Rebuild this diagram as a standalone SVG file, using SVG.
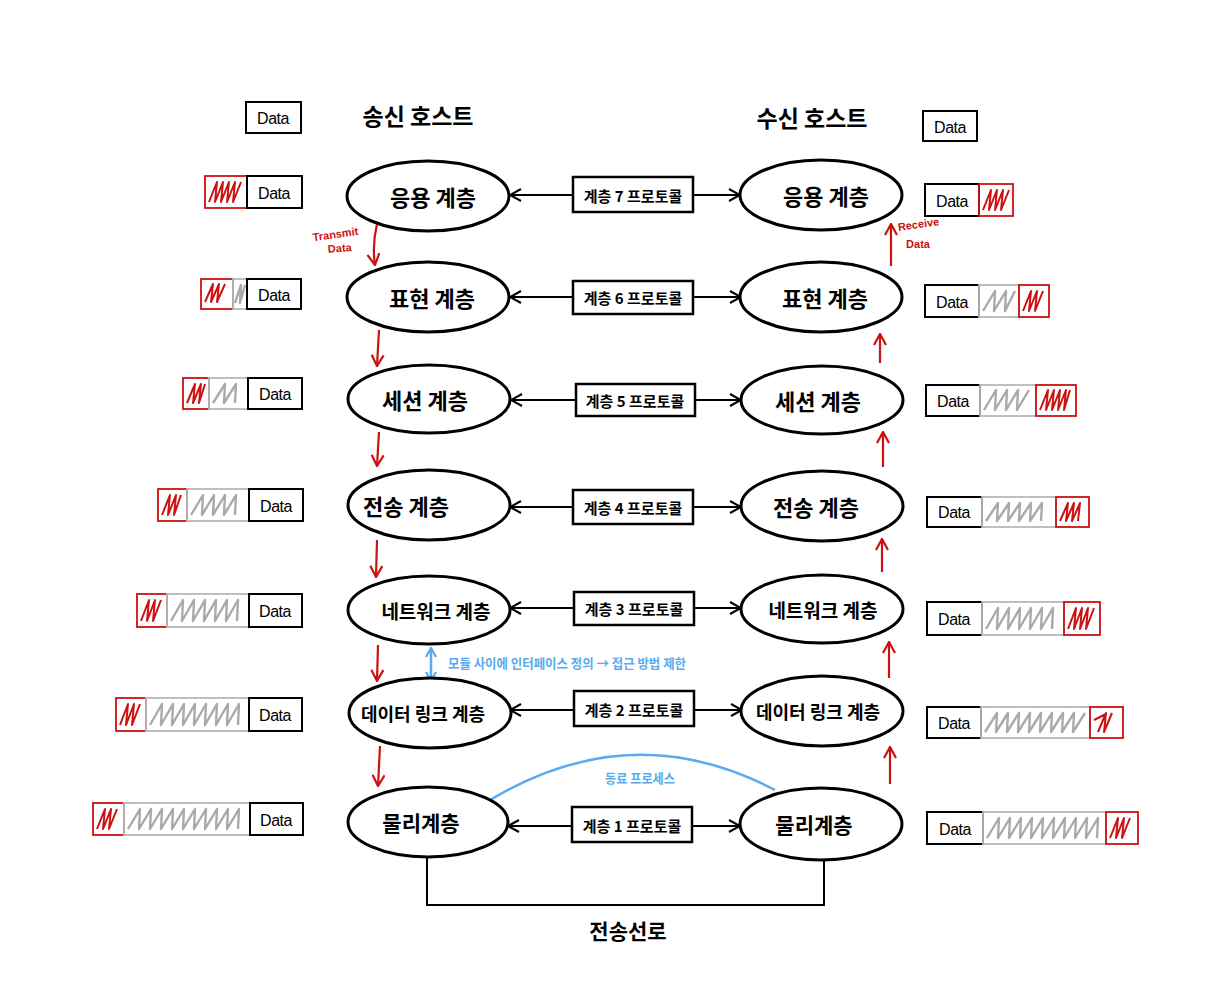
<svg xmlns="http://www.w3.org/2000/svg" width="1217" height="1000" viewBox="0 0 1217 1000">
<defs>
<style>
.ell{fill:#fff;stroke:#000;stroke-width:3}
.lbl{font-family:"Noto Sans CJK KR","Noto Sans",sans-serif;font-weight:700;fill:#000;text-anchor:middle;dominant-baseline:central}
.pbox{fill:#fff;stroke:#000;stroke-width:2.5}
.ptxt{font-family:"Noto Sans CJK KR","Noto Sans",sans-serif;font-weight:700;font-size:15px;fill:#000;text-anchor:middle;dominant-baseline:central}
.conn{stroke:#000;stroke-width:2;fill:none}
.red{stroke:#cc1111;stroke-width:2.2;fill:none}
.blue{stroke:#5aaaf0;stroke-width:2.5;fill:none}
.dbox{fill:#fff;stroke:#000;stroke-width:2}
.dtxt{font-family:"Liberation Sans",sans-serif;font-size:16px;fill:#000;text-anchor:middle;dominant-baseline:central;letter-spacing:-0.5px}
.rbox{fill:none;stroke:#cc1111;stroke-width:1.8}
.gbox{fill:none;stroke:#b8b8b8;stroke-width:1.8}
.rsc{fill:none;stroke:#cc1111;stroke-width:2;stroke-linejoin:round}
.gsc{fill:none;stroke:#aaaaaa;stroke-width:2.4;stroke-linejoin:round}
.head{font-family:"Noto Sans CJK KR","Noto Sans",sans-serif;font-weight:700;font-size:23px;fill:#000;text-anchor:middle;dominant-baseline:central}
.rtxt{font-family:"Liberation Sans",sans-serif;font-size:11px;font-weight:700;fill:#cc1111;text-anchor:middle}
.btxt{font-family:"Noto Sans CJK KR","Noto Sans",sans-serif;font-size:13px;font-weight:700;fill:#5aaaf0;dominant-baseline:central}
</style>
<marker id="ah" viewBox="0 0 14 14" refX="13" refY="7" markerWidth="14" markerHeight="14" markerUnits="userSpaceOnUse" orient="auto">
<path d="M2,1 L13,7 L2,13" fill="none" stroke="#000" stroke-width="2"/>
</marker>
<marker id="ahr" viewBox="0 0 14 14" refX="13" refY="7" markerWidth="14" markerHeight="14" markerUnits="userSpaceOnUse" orient="auto">
<path d="M2,1 L13,7 L2,13" fill="none" stroke="#cc1111" stroke-width="2.2"/>
</marker>
<marker id="ahb" viewBox="0 0 12 12" refX="11" refY="6" markerWidth="12" markerHeight="12" markerUnits="userSpaceOnUse" orient="auto-start-reverse">
<path d="M2,1 L11,6 L2,11" fill="none" stroke="#5aaaf0" stroke-width="2.2"/>
</marker>
</defs>
<rect width="1217" height="1000" fill="#fff"/>

<!-- headings -->
<text class="head" x="418" y="115">송신 호스트</text>
<text class="head" x="812" y="117">수신 호스트</text>

<!-- connectors -->
<g id="connectors">
  <line class="conn" x1="573" y1="195" x2="510" y2="195" marker-end="url(#ah)"/>
  <line class="conn" x1="693" y1="195" x2="740" y2="195" marker-end="url(#ah)"/>
  <line class="conn" x1="573" y1="297" x2="510" y2="297" marker-end="url(#ah)"/>
  <line class="conn" x1="693" y1="297" x2="741" y2="297" marker-end="url(#ah)"/>
  <line class="conn" x1="576" y1="400" x2="511" y2="400" marker-end="url(#ah)"/>
  <line class="conn" x1="695" y1="400" x2="741" y2="400" marker-end="url(#ah)"/>
  <line class="conn" x1="573" y1="507" x2="510" y2="507" marker-end="url(#ah)"/>
  <line class="conn" x1="693" y1="507" x2="741" y2="507" marker-end="url(#ah)"/>
  <line class="conn" x1="574" y1="608" x2="510" y2="608" marker-end="url(#ah)"/>
  <line class="conn" x1="694" y1="608" x2="741" y2="608" marker-end="url(#ah)"/>
  <line class="conn" x1="574" y1="710" x2="510" y2="710" marker-end="url(#ah)"/>
  <line class="conn" x1="694" y1="710" x2="742" y2="710" marker-end="url(#ah)"/>
  <line class="conn" x1="572" y1="826" x2="508" y2="826" marker-end="url(#ah)"/>
  <line class="conn" x1="692" y1="826" x2="740" y2="826" marker-end="url(#ah)"/>
  <!-- transmission line -->
  <path class="conn" d="M427,857 V905 H824 V857" stroke-width="2.5"/>
  <!-- red down arrows (sender) -->
  <path class="red" d="M377,224 Q372,245 375,265" marker-end="url(#ahr)"/>
  <line class="red" x1="379" y1="330" x2="377" y2="366" marker-end="url(#ahr)"/>
  <line class="red" x1="379" y1="432" x2="377" y2="466" marker-end="url(#ahr)"/>
  <line class="red" x1="377" y1="540" x2="376" y2="577" marker-end="url(#ahr)"/>
  <line class="red" x1="378" y1="645" x2="377" y2="681" marker-end="url(#ahr)"/>
  <line class="red" x1="380" y1="746" x2="378" y2="786" marker-end="url(#ahr)"/>
  <!-- red up arrows (receiver) -->
  <line class="red" x1="891" y1="266" x2="891" y2="224" marker-end="url(#ahr)"/>
  <line class="red" x1="880" y1="363" x2="880" y2="334" marker-end="url(#ahr)"/>
  <line class="red" x1="883" y1="467" x2="883" y2="432" marker-end="url(#ahr)"/>
  <line class="red" x1="882" y1="572" x2="882" y2="539" marker-end="url(#ahr)"/>
  <line class="red" x1="889" y1="678" x2="889" y2="642" marker-end="url(#ahr)"/>
  <line class="red" x1="890" y1="784" x2="890" y2="747" marker-end="url(#ahr)"/>
  <!-- blue -->
  <line class="blue" x1="431" y1="648" x2="431" y2="681" marker-start="url(#ahb)" marker-end="url(#ahb)"/>
  <path class="blue" d="M490,800 Q632,715 775,790"/>
</g>

<text class="rtxt" x="336" y="238" transform="rotate(-8 336 238)">Transmit</text>
<text class="rtxt" x="340" y="252" transform="rotate(-4 340 252)">Data</text>
<text class="rtxt" x="919" y="228" transform="rotate(-8 919 228)">Receive</text>
<text class="rtxt" x="918" y="248">Data</text>
<text class="btxt" x="448" y="662" textLength="238" lengthAdjust="spacingAndGlyphs">모듈 사이에 인터페이스 정의 → 접근 방법 제한</text>
<text class="btxt" x="605" y="777" textLength="70" lengthAdjust="spacingAndGlyphs">동료 프로세스</text>
<text class="head" x="628" y="930" style="font-size:21px">전송선로</text>

<!-- sender layers -->
<g id="s7"><ellipse class="ell" cx="428" cy="196" rx="81" ry="35"/><text class="lbl" x="433" y="196" font-size="22">응용 계층</text></g>
<g id="s6"><ellipse class="ell" cx="428" cy="297" rx="81" ry="35"/><text class="lbl" x="432" y="297" font-size="22">표현 계층</text></g>
<g id="s5"><ellipse class="ell" cx="429" cy="399" rx="81" ry="34"/><text class="lbl" x="425" y="399" font-size="22">세션 계층</text></g>
<g id="s4"><ellipse class="ell" cx="429" cy="505" rx="81" ry="35"/><text class="lbl" x="406" y="505" font-size="22">전송 계층</text></g>
<g id="s3"><ellipse class="ell" cx="429" cy="610" rx="81" ry="34"/><text class="lbl" x="436" y="610" font-size="19">네트워크 계층</text></g>
<g id="s2"><ellipse class="ell" cx="430" cy="713" rx="81" ry="35"/><text class="lbl" x="423" y="713" font-size="18">데이터 링크 계층</text></g>
<g id="s1"><ellipse class="ell" cx="428" cy="822" rx="80" ry="35"/><text class="lbl" x="421" y="822" font-size="21">물리계층</text></g>

<!-- receiver layers -->
<g id="r7"><ellipse class="ell" cx="821" cy="195" rx="81" ry="35"/><text class="lbl" x="826" y="195" font-size="22">응용 계층</text></g>
<g id="r6"><ellipse class="ell" cx="821" cy="297" rx="81" ry="35"/><text class="lbl" x="825" y="297" font-size="22">표현 계층</text></g>
<g id="r5"><ellipse class="ell" cx="822" cy="400" rx="81" ry="34"/><text class="lbl" x="818" y="400" font-size="22">세션 계층</text></g>
<g id="r4"><ellipse class="ell" cx="822" cy="506" rx="81" ry="35"/><text class="lbl" x="816" y="506" font-size="22">전송 계층</text></g>
<g id="r3"><ellipse class="ell" cx="822" cy="609" rx="81" ry="34"/><text class="lbl" x="823" y="609" font-size="19">네트워크 계층</text></g>
<g id="r2"><ellipse class="ell" cx="822" cy="711" rx="81" ry="35"/><text class="lbl" x="818" y="711" font-size="18">데이터 링크 계층</text></g>
<g id="r1"><ellipse class="ell" cx="821" cy="824" rx="81" ry="36"/><text class="lbl" x="814" y="824" font-size="21">물리계층</text></g>

<!-- protocol boxes -->
<g id="p7"><rect class="pbox" x="573" y="177" width="120" height="35"/><text class="ptxt" x="633" y="195">계층 7 프로토콜</text></g>
<g id="p6"><rect class="pbox" x="573" y="281" width="120" height="33"/><text class="ptxt" x="633" y="297">계층 6 프로토콜</text></g>
<g id="p5"><rect class="pbox" x="576" y="384" width="119" height="32"/><text class="ptxt" x="635" y="400">계층 5 프로토콜</text></g>
<g id="p4"><rect class="pbox" x="573" y="490" width="120" height="34"/><text class="ptxt" x="633" y="507">계층 4 프로토콜</text></g>
<g id="p3"><rect class="pbox" x="574" y="592" width="120" height="33"/><text class="ptxt" x="634" y="608">계층 3 프로토콜</text></g>
<g id="p2"><rect class="pbox" x="574" y="691" width="120" height="35"/><text class="ptxt" x="634" y="709">계층 2 프로토콜</text></g>
<g id="p1"><rect class="pbox" x="572" y="807" width="120" height="35"/><text class="ptxt" x="632" y="825">계층 1 프로토콜</text></g>

<!-- sender data units -->
<g id="sd0"><rect class="dbox" x="246" y="102" width="55" height="31"/><text class="dtxt" x="273" y="118">Data</text></g>
<g id="sd7">
  <rect class="rbox" x="205" y="176" width="42" height="32"/>
  <path class="rsc" d="M209,202 l8,-20 -2,20 8,-20 -2,20 8,-20 -2,20 8,-20 -2,20 8,-20"/>
  <rect class="dbox" x="247" y="176" width="55" height="32"/><text class="dtxt" x="274" y="193">Data</text>
</g>
<g id="sd6">
  <rect class="rbox" x="201" y="279" width="32" height="30"/>
  <path class="rsc" d="M205,302 l8,-18 -2,18 8,-18 -2,18 8,-18"/>
  <rect class="gbox" x="233" y="279" width="14" height="30"/>
  <path class="gsc" d="M235,303 l6,-18 -1,18 5,-18"/>
  <rect class="dbox" x="247" y="279" width="54" height="30"/><text class="dtxt" x="274" y="295">Data</text>
</g>
<g id="sd5">
  <rect class="rbox" x="183" y="378" width="26" height="31"/>
  <path class="rsc" d="M187,403 l8,-19 -2,19 8,-19 -2,19 6,-19"/>
  <rect class="gbox" x="209" y="378" width="39" height="31"/>
  <path class="gsc" d="M213,403 l12,-19 -1,19 12,-19 -1,19"/>
  <rect class="dbox" x="248" y="378" width="54" height="31"/><text class="dtxt" x="275" y="394">Data</text>
</g>
<g id="sd4">
  <rect class="rbox" x="158" y="489" width="29" height="32"/>
  <path class="rsc" d="M162,515 l8,-20 -2,20 8,-20 -2,20 7,-20"/>
  <rect class="gbox" x="187" y="489" width="62" height="32"/>
  <path class="gsc" d="M191,515 l12,-20 -1,20 12,-20 -1,20 12,-20 -1,20 12,-20 -1,20"/>
  <rect class="dbox" x="249" y="489" width="54" height="32"/><text class="dtxt" x="276" y="506">Data</text>
</g>
<g id="sd3">
  <rect class="rbox" x="137" y="594" width="30" height="33"/>
  <path class="rsc" d="M141,621 l8,-21 -2,21 8,-21 -2,21 8,-21"/>
  <rect class="gbox" x="167" y="594" width="82" height="33"/>
  <path class="gsc" d="M171,621 l12,-21 -1,21 12,-21 -1,21 12,-21 -1,21 12,-21 -1,21 12,-21 -1,21 12,-21 -1,21"/>
  <rect class="dbox" x="249" y="594" width="53" height="33"/><text class="dtxt" x="275" y="611">Data</text>
</g>
<g id="sd2">
  <rect class="rbox" x="116" y="698" width="30" height="33"/>
  <path class="rsc" d="M120,725 l8,-21 -2,21 8,-21 -2,21 8,-21"/>
  <rect class="gbox" x="146" y="698" width="103" height="33"/>
  <path class="gsc" d="M150,725 l12,-21 -1,21 12,-21 -1,21 12,-21 -1,21 12,-21 -1,21 12,-21 -1,21 12,-21 -1,21 12,-21 -1,21 12,-21 -1,21"/>
  <rect class="dbox" x="249" y="698" width="53" height="33"/><text class="dtxt" x="275" y="715">Data</text>
</g>
<g id="sd1">
  <rect class="rbox" x="93" y="803" width="31" height="32"/>
  <path class="rsc" d="M97,829 l8,-20 -2,20 8,-20 -2,20 8,-20"/>
  <rect class="gbox" x="124" y="803" width="126" height="32"/>
  <path class="gsc" d="M128,829 l12,-20 -1,20 12,-20 -1,20 12,-20 -1,20 12,-20 -1,20 12,-20 -1,20 12,-20 -1,20 12,-20 -1,20 12,-20 -1,20 12,-20 -1,20 12,-20 -1,20"/>
  <rect class="dbox" x="250" y="803" width="53" height="32"/><text class="dtxt" x="276" y="820">Data</text>
</g>

<!-- receiver data units -->
<g id="rd0"><rect class="dbox" x="923" y="111" width="54" height="30"/><text class="dtxt" x="950" y="127">Data</text></g>
<g id="rd7">
  <rect class="dbox" x="925" y="184" width="54" height="32"/><text class="dtxt" x="952" y="201">Data</text>
  <rect class="rbox" x="979" y="184" width="34" height="32"/>
  <path class="rsc" d="M983,210 l8,-20 -2,20 8,-20 -2,20 8,-20 -2,20 8,-20"/>
</g>
<g id="rd6">
  <rect class="dbox" x="925" y="285" width="54" height="32"/><text class="dtxt" x="952" y="302">Data</text>
  <rect class="gbox" x="979" y="285" width="40" height="32"/>
  <path class="gsc" d="M983,311 l12,-20 -1,20 12,-20 -1,20 10,-20"/>
  <rect class="rbox" x="1019" y="285" width="30" height="32"/>
  <path class="rsc" d="M1023,311 l8,-20 -2,20 8,-20 -2,20 8,-20"/>
</g>
<g id="rd5">
  <rect class="dbox" x="926" y="385" width="54" height="31"/><text class="dtxt" x="953" y="401">Data</text>
  <rect class="gbox" x="980" y="385" width="56" height="31"/>
  <path class="gsc" d="M984,410 l12,-20 -1,20 12,-20 -1,20 12,-20 -1,20 12,-20"/>
  <rect class="rbox" x="1036" y="385" width="40" height="31"/>
  <path class="rsc" d="M1040,410 l8,-20 -2,20 8,-20 -2,20 8,-20 -2,20 8,-20 -2,20 6,-20"/>
</g>
<g id="rd4">
  <rect class="dbox" x="927" y="497" width="55" height="30"/><text class="dtxt" x="954" y="512">Data</text>
  <rect class="gbox" x="982" y="497" width="74" height="30"/>
  <path class="gsc" d="M986,521 l12,-18 -1,18 12,-18 -1,18 12,-18 -1,18 12,-18 -1,18 12,-18 -1,18"/>
  <rect class="rbox" x="1056" y="497" width="33" height="30"/>
  <path class="rsc" d="M1060,521 l8,-18 -2,18 8,-18 -2,18 8,-18 -2,18"/>
</g>
<g id="rd3">
  <rect class="dbox" x="927" y="602" width="55" height="33"/><text class="dtxt" x="954" y="619">Data</text>
  <rect class="gbox" x="982" y="602" width="82" height="33"/>
  <path class="gsc" d="M986,629 l12,-21 -1,21 12,-21 -1,21 12,-21 -1,21 12,-21 -1,21 12,-21 -1,21 12,-21 -1,21"/>
  <rect class="rbox" x="1064" y="602" width="36" height="33"/>
  <path class="rsc" d="M1068,629 l8,-21 -2,21 8,-21 -2,21 8,-21 -2,21 8,-21"/>
</g>
<g id="rd2">
  <rect class="dbox" x="927" y="707" width="54" height="31"/><text class="dtxt" x="954" y="723">Data</text>
  <rect class="gbox" x="981" y="707" width="109" height="31"/>
  <path class="gsc" d="M985,732 l12,-19 -1,19 12,-19 -1,19 12,-19 -1,19 12,-19 -1,19 12,-19 -1,19 12,-19 -1,19 12,-19 -1,19 12,-19 -1,19 12,-19"/>
  <rect class="rbox" x="1090" y="707" width="33" height="31"/>
  <path class="rsc" d="M1094,720 l12,-6 M1098,732 l8,-19 -2,19 8,-19"/>
</g>
<g id="rd1">
  <rect class="dbox" x="927" y="812" width="56" height="32"/><text class="dtxt" x="955" y="829">Data</text>
  <rect class="gbox" x="983" y="812" width="123" height="32"/>
  <path class="gsc" d="M987,838 l12,-20 -1,20 12,-20 -1,20 12,-20 -1,20 12,-20 -1,20 12,-20 -1,20 12,-20 -1,20 12,-20 -1,20 12,-20 -1,20 12,-20 -1,20 12,-20 -1,20"/>
  <rect class="rbox" x="1106" y="812" width="32" height="32"/>
  <path class="rsc" d="M1110,838 l8,-20 -2,20 8,-20 -2,20 8,-20"/>
</g>
</svg>
